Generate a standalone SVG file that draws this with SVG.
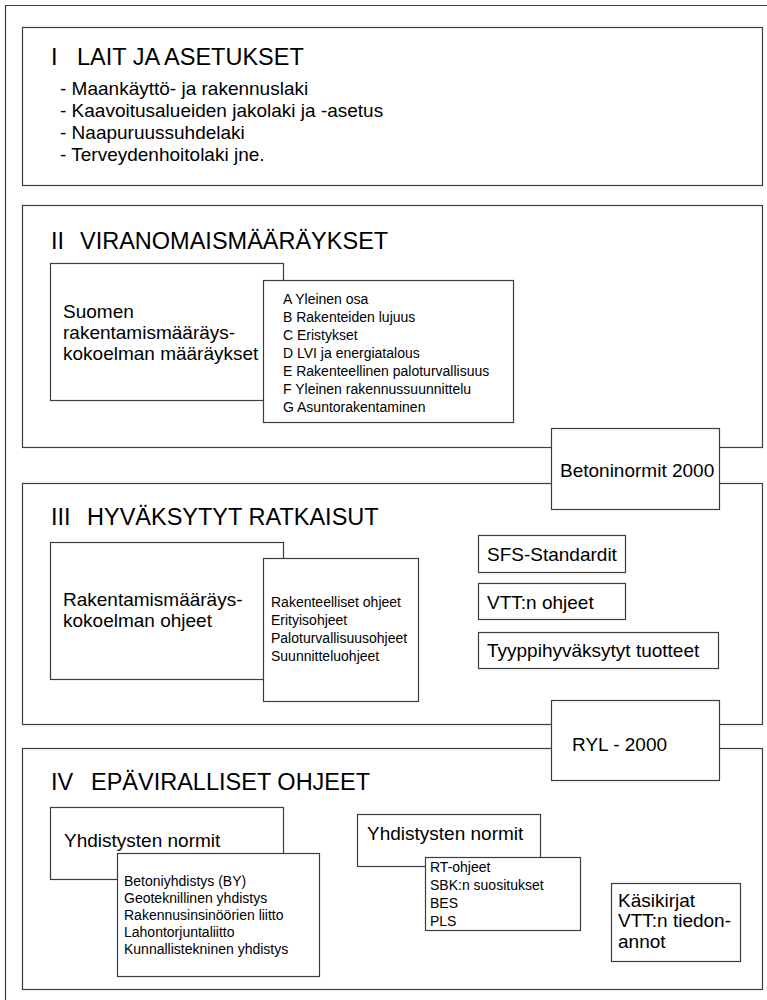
<svg xmlns="http://www.w3.org/2000/svg" width="767" height="1000" viewBox="0 0 767 1000">
<style>
  .bx { fill: #ffffff; stroke: #3c3c3c; stroke-width: 1.2; }
  text { font-family: "Liberation Sans", Arial, sans-serif; fill: #000000; }
  .t { font-size: 23.5px; }
  .b { font-size: 19px; }
  .m { font-size: 19px; }
  .s { font-size: 14px; }
</style>
<rect x="0" y="0" width="767" height="1000" fill="#ffffff"/>
<path d="M5.5,1000 V5.5 H767" fill="none" stroke="#3c3c3c" stroke-width="1.2"/>

<g id="box-I">
  <rect class="bx" x="22.5" y="27.5" width="740" height="158"/>
  <text class="t" y="65"><tspan x="51">I</tspan><tspan x="77">LAIT JA ASETUKSET</tspan></text>
  <text class="b" x="60" y="95">- Maankäyttö- ja rakennuslaki</text>
  <text class="b" x="60" y="117">- Kaavoitusalueiden jakolaki ja -asetus</text>
  <text class="b" x="60" y="139">- Naapuruussuhdelaki</text>
  <text class="b" x="60" y="161">- Terveydenhoitolaki jne.</text>
</g>

<g id="box-II">
  <rect class="bx" x="22.5" y="205.5" width="740" height="242"/>
  <text class="t" y="249"><tspan x="51">II</tspan><tspan x="80">VIRANOMAISMÄÄRÄYKSET</tspan></text>
</g>
<g id="suomen">
  <rect class="bx" x="50.5" y="263.5" width="233" height="137"/>
  <text class="m" x="63" y="318">Suomen</text>
  <text class="m" x="63" y="339">rakentamismääräys-</text>
  <text class="m" x="63" y="360">kokoelman määräykset</text>
</g>
<g id="suomen-list">
  <rect class="bx" x="263.5" y="280.5" width="250" height="142"/>
  <text class="s" x="283" y="304">A Yleinen osa</text>
  <text class="s" x="283" y="322">B Rakenteiden lujuus</text>
  <text class="s" x="283" y="340">C Eristykset</text>
  <text class="s" x="283" y="358">D LVI ja energiatalous</text>
  <text class="s" x="283" y="376">E Rakenteellinen paloturvallisuus</text>
  <text class="s" x="283" y="394">F Yleinen rakennussuunnittelu</text>
  <text class="s" x="283" y="412">G Asuntorakentaminen</text>
</g>

<g id="box-III">
  <rect class="bx" x="22.5" y="483.5" width="740" height="241"/>
  <text class="t" y="525"><tspan x="51">III</tspan><tspan x="87">HYVÄKSYTYT RATKAISUT</tspan></text>
</g>
<g id="betoninormit">
  <rect class="bx" x="551.5" y="428.5" width="168" height="81"/>
  <text class="m" x="560" y="477">Betoninormit 2000</text>
</g>
<g id="rakmk-ohjeet">
  <rect class="bx" x="50.5" y="542.5" width="233" height="137"/>
  <text class="m" x="63" y="606">Rakentamismääräys-</text>
  <text class="m" x="63" y="627">kokoelman ohjeet</text>
</g>
<g id="ohjeet-list">
  <rect class="bx" x="263.5" y="558.5" width="155" height="143"/>
  <text class="s" x="271" y="607">Rakenteelliset ohjeet</text>
  <text class="s" x="271" y="625">Erityisohjeet</text>
  <text class="s" x="271" y="643">Paloturvallisuusohjeet</text>
  <text class="s" x="271" y="661">Suunnitteluohjeet</text>
</g>
<g id="sfs">
  <rect class="bx" x="478.5" y="535.5" width="147" height="37"/>
  <text class="m" x="487" y="561">SFS-Standardit</text>
</g>
<g id="vtt-ohjeet">
  <rect class="bx" x="478.5" y="583.5" width="147" height="36"/>
  <text class="m" x="487" y="609">VTT:n ohjeet</text>
</g>
<g id="tyyppi">
  <rect class="bx" x="478.5" y="632.5" width="240" height="36"/>
  <text class="m" x="487" y="657">Tyyppihyväksytyt tuotteet</text>
</g>

<g id="box-IV">
  <rect class="bx" x="22.5" y="748.5" width="740" height="241"/>
  <text class="t" y="790"><tspan x="51">IV</tspan><tspan x="91">EPÄVIRALLISET OHJEET</tspan></text>
</g>
<g id="ryl">
  <rect class="bx" x="551.5" y="700.5" width="168" height="80"/>
  <text class="m" x="572" y="751">RYL - 2000</text>
</g>
<g id="yhd-1">
  <rect class="bx" x="50.5" y="807.5" width="233" height="72"/>
  <text class="m" x="64" y="847">Yhdistysten normit</text>
</g>
<g id="yhd-1-list">
  <rect class="bx" x="117.5" y="853.5" width="202" height="123"/>
  <text class="s" x="124" y="886">Betoniyhdistys (BY)</text>
  <text class="s" x="124" y="903">Geoteknillinen yhdistys</text>
  <text class="s" x="124" y="920">Rakennusinsinöörien liitto</text>
  <text class="s" x="124" y="937">Lahontorjuntaliitto</text>
  <text class="s" x="124" y="954">Kunnallistekninen yhdistys</text>
</g>
<g id="yhd-2">
  <rect class="bx" x="357.5" y="814.5" width="183" height="52"/>
  <text class="m" x="367" y="840">Yhdistysten normit</text>
</g>
<g id="yhd-2-list">
  <rect class="bx" x="425.5" y="857.5" width="155" height="73"/>
  <text class="s" x="430" y="872">RT-ohjeet</text>
  <text class="s" x="430" y="890">SBK:n suositukset</text>
  <text class="s" x="430" y="908">BES</text>
  <text class="s" x="430" y="926">PLS</text>
</g>
<g id="kasikirjat">
  <rect class="bx" x="611.5" y="883.5" width="129" height="78"/>
  <text class="m" x="618" y="907">Käsikirjat</text>
  <text class="m" x="618" y="927">VTT:n tiedon-</text>
  <text class="m" x="618" y="948">annot</text>
</g>
</svg>
